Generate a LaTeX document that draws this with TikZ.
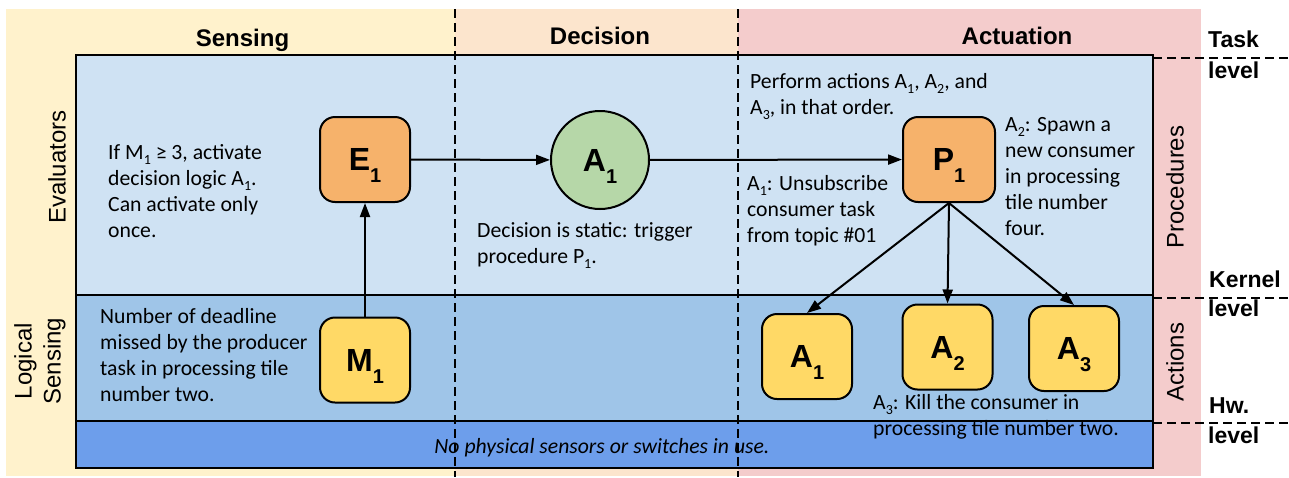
\documentclass[tikz,border=0pt]{standalone}
\usepackage{fontspec}
\setmainfont{Carlito}
\newfontfamily\arial{Liberation Sans}
\usetikzlibrary{arrows.meta}
\definecolor{sensebg}{HTML}{FFF2CC}
\definecolor{decbg}{HTML}{FCE5CD}
\definecolor{actbg}{HTML}{F4CCCC}
\definecolor{evalbg}{HTML}{CFE2F3}
\definecolor{logbg}{HTML}{9FC5E8}
\definecolor{hwbg}{HTML}{6D9EEB}
\definecolor{evorange}{HTML}{F6B26B}
\definecolor{decgreen}{HTML}{B6D7A8}
\definecolor{acyellow}{HTML}{FFD966}
\newcommand\sbs[1]{\raisebox{-5.5pt}{\fontsize{14}{14}\selectfont #1}}
\newcommand\nlab[2]{{\arial\bfseries\fontsize{32}{32}\selectfont #1\raisebox{-12pt}{\fontsize{20}{20}\selectfont #2}}}
\tikzset{
  box/.style={draw=black, line width=2pt, rounded corners=15pt, minimum width=90pt, minimum height=85pt, inner sep=0pt, text depth=0pt},
  evbox/.style={box, fill=evorange},
  acbox/.style={box, fill=acyellow},
  decnode/.style={circle, draw=black, line width=2pt, fill=decgreen, minimum size=98pt, inner sep=0pt, text depth=0pt},
  arr/.style={line width=2pt, -{Triangle[length=14pt,width=10pt]}},
  txt/.style={font=\fontsize{21.7}{26}\selectfont, align=left, inner sep=0pt, anchor=north west},
  head/.style={font=\arial\bfseries\fontsize{24}{24}\selectfont, inner sep=0pt, anchor=base},
  rowlab/.style={font=\arial\fontsize{24}{29}\selectfont, rotate=90, align=center, inner sep=0pt},
  lvl/.style={font=\arial\bfseries\fontsize{23}{23}\selectfont, inner sep=0pt, anchor=base west},
  dline/.style={line width=2pt, dash pattern=on 9pt off 5pt}
}
\begin{document}
\begin{tikzpicture}[x=1pt,y=-1pt]
\useasboundingbox (0,0) rectangle (1289,477);
% column backgrounds
\fill[sensebg] (6,9) rectangle (455,476);
\fill[decbg] (455,9) rectangle (738,476);
\fill[actbg] (738,9) rectangle (1201,476);
% bands
\filldraw[fill=evalbg, line width=2pt] (76,55) rectangle (1153,295);
\filldraw[fill=logbg, line width=2pt] (76,295) rectangle (1153,421);
\filldraw[fill=hwbg, line width=2pt] (76,421) rectangle (1153,468);
% headings
\node[head] (hsense) at (242.5,46) {Sensing};
\node[head] (hdec) at (600,44) {Decision};
\node[head] (hact) at (1017,44) {Actuation};
% row labels
\node[rowlab] (reval) at (57,167) {Evaluators};
\node[rowlab] (rlog) at (40,361) {Logical\\Sensing};
\node[rowlab] (rproc) at (1175,187) {Procedures};
\node[rowlab] (ract) at (1175,362) {Actions};
% level labels
\node[lvl] (l1a) at (1208,47) {Task};
\node[lvl] (l1b) at (1208,78) {level};
\node[lvl] (l2a) at (1209,287) {Kernel};
\node[lvl] (l2b) at (1208,316) {level};
\node[lvl] (l3a) at (1209,413) {Hw.};
\node[lvl] (l3b) at (1208,443) {level};
% nodes
\node[evbox] (E1) at (365,159.5) {\nlab{E}{1}};
\node[decnode] (Ad) at (600,160) {\nlab{A}{1}};
\node[evbox, minimum width=92pt] (P1) at (949,159.5) {\nlab{P}{1}};
\node[acbox] (M1) at (365,360) {\nlab{M}{1}};
\node[acbox] (Aa) at (807,356.5) {\nlab{A}{1}};
\node[acbox] (Ab) at (947.5,347) {\nlab{A}{2}};
\node[acbox] (Ac) at (1074,348.5) {\nlab{A}{3}};
% arrows
\draw[arr] (M1) -- (E1);
\draw[arr] (E1) -- (Ad);
\draw[arr] (Ad) -- (P1);
\draw[arr] (P1.south) -- (Aa.north);
\draw[arr] (P1.south) -- (Ab.north);
\draw[arr] (P1.south) -- (Ac.north);
% texts
\node[txt] (t1) at (108,144) {If M\sbs{1} ≥ 3, activate\\decision logic A\sbs{1}.\\Can activate only\\once.};
\node[txt] (t2) at (100,308) {Number of deadline\\missed by the producer\\task in processing tile\\number two.};
\node[txt] (t3) at (477,222) {Decision is static: trigger\\procedure P\sbs{1}.};
\node[txt] (t4) at (750,73) {Perform actions A\sbs{1}, A\sbs{2}, and\\A\sbs{3}, in that order.};
\node[txt] (t5) at (747,175) {A\sbs{1}: Unsubscribe\\consumer task\\from topic \#01};
\node[txt] (t6) at (1005,117) {A\sbs{2}: Spawn a\\new consumer\\in processing\\tile number\\four.};
\node[txt] (t7) at (873,394) {A\sbs{3}: Kill the consumer in\\processing tile number two.};
\node[font=\itshape\fontsize{21.7}{26}\selectfont, inner sep=0pt, anchor=base] (t8) at (602,453) {No physical sensors or switches in use.};
% dashed separators
\draw[dline] (455,9) -- (455,477);
\draw[dline] (738,9) -- (738,477);
\draw[dline] (1153,58) -- (1289,58);
\draw[dline] (1153,298) -- (1289,298);
\draw[dline] (1153,423) -- (1289,423);
\end{tikzpicture}
\end{document}
